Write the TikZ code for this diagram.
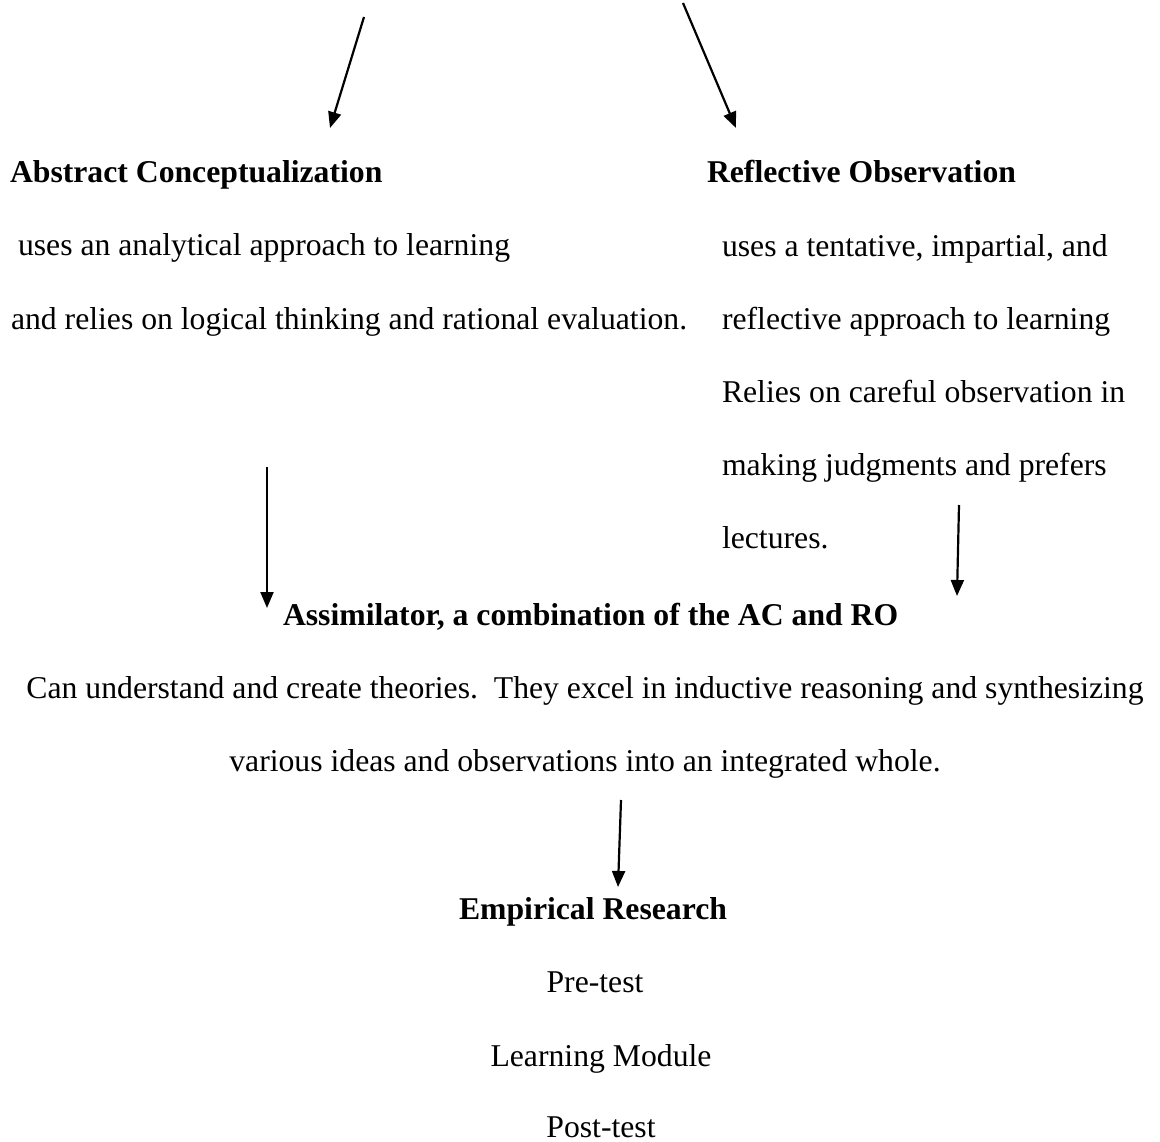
\documentclass[tikz,border=0pt]{standalone}
\usepackage{fontspec}
\setmainfont{Liberation Serif}
\usetikzlibrary{arrows.meta}
\begin{document}
\begin{tikzpicture}[x=1pt,y=-1pt,
  txt/.style={inner sep=0pt, outer sep=0pt, font=\fontsize{31.7}{38}\selectfont, anchor=base west},
  ctr/.style={txt, anchor=base},
  hd/.style={txt, font=\fontsize{31.7}{38}\selectfont\bfseries},
  arr/.style={line width=2.2pt, -{Triangle[length=16pt,width=13pt]}}]
\useasboundingbox (0,0) rectangle (1160,1142);
\fill[white] (0,0) rectangle (1160,1142);

% Abstract Conceptualization column
\node[hd]  (ac)  at (10,183) {Abstract Conceptualization};
\node[txt] (ac1) at (18,256) {uses an analytical approach to learning};
\node[txt] (ac2) at (11,329) {and relies on logical thinking and rational evaluation.};

% Reflective Observation column
\node[hd]  (ro)  at (707,183) {Reflective Observation};
\node[txt] (ro1) at (722,257) {uses a tentative, impartial, and};
\node[txt] (ro2) at (722,330) {reflective approach to learning};
\node[txt] (ro3) at (722,402) {Relies on careful observation in};
\node[txt] (ro4) at (722,475) {making judgments and prefers};
\node[txt] (ro5) at (722,548) {lectures.};

% Assimilator
\node[hd]  (as)  at (283,625) {Assimilator, a combination of the AC and RO};
\node[ctr] (as1) at (585,698) {Can understand and create theories.\ \ They excel in inductive reasoning and synthesizing};
\node[ctr] (as2) at (585,771) {various ideas and observations into an integrated whole.};

% Empirical Research
\node[hd, anchor=base] (er) at (593,919) {Empirical Research};
\node[ctr] (er1) at (595,992) {Pre-test};
\node[ctr] (er2) at (601,1066) {Learning Module};
\node[ctr] (er3) at (601,1137) {Post-test};

% arrow end points
\coordinate (a1s) at (364,17);  \coordinate (a1e) at (330,128);
\coordinate (a2s) at (683,3);   \coordinate (a2e) at (736,128);
\coordinate (a3s) at (267,467); \coordinate (a3e) at (267,608);
\coordinate (a4s) at (959,505); \coordinate (a4e) at (957,596);
\coordinate (a5s) at (621,800); \coordinate (a5e) at (618,887);

\draw[arr] (a1s) -- (a1e);
\draw[arr] (a2s) -- (a2e);
\draw[arr] (a3s) -- (a3e);
\draw[arr] (a4s) -- (a4e);
\draw[arr] (a5s) -- (a5e);
\end{tikzpicture}
\end{document}
